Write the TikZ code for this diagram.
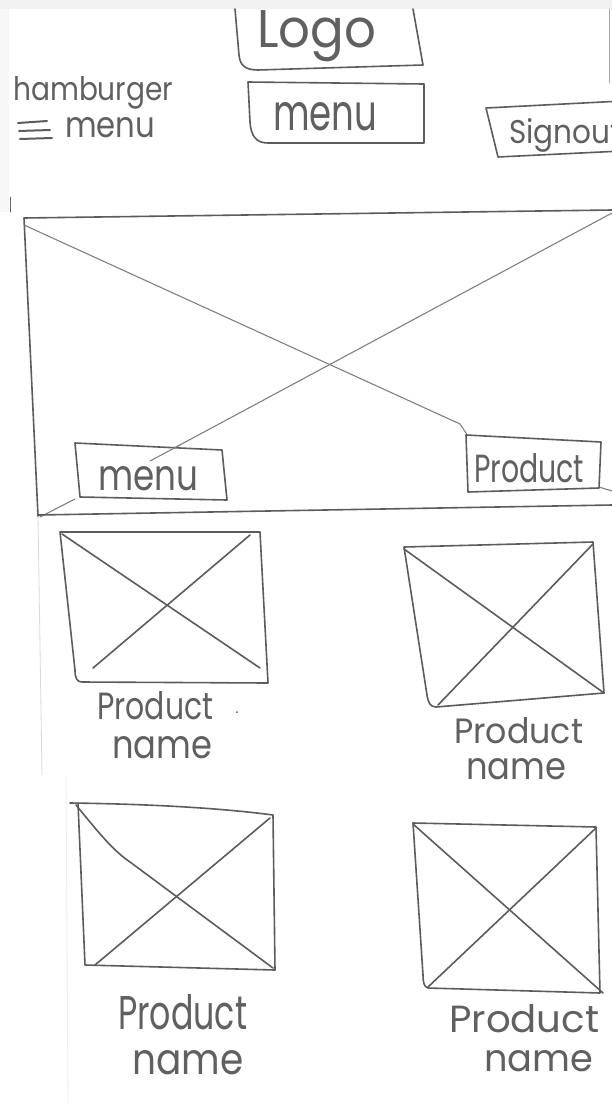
\documentclass[tikz,border=0pt]{standalone}
\usepackage{fontspec}
\setmainfont{Poppins}
\usepackage{graphicx}
\definecolor{pencil}{RGB}{92,92,92}
\definecolor{pencillight}{RGB}{128,128,128}
\definecolor{ink}{RGB}{96,96,96}
\newcommand{\hand}[3]{\resizebox{#1pt}{#2pt}{#3}}
\begin{document}
\begin{tikzpicture}[x=1pt,y=-1pt,
  line join=round, line cap=round,
  pen/.style={draw=pencil, line width=1.6pt},
  faint/.style={draw=pencillight, line width=1.1pt},
  paperedge/.style={draw=black!15, line width=0.8pt},
  hw/.style={inner sep=0pt, anchor=base west, text=ink}]
\useasboundingbox (0,0) rectangle (612,1103);
\fill[white] (0,0) rectangle (612,1103);
\fill[black!5] (0,0) rectangle (612,9);
\fill[black!3] (0,9) rectangle (9,212);
% paper edges
\draw[draw=black!35, line width=0.8pt] (609,9) -- (609,83);
\draw[draw=black!60, line width=1pt] (10,197) -- (10,212);
\draw[paperedge] (38,516) -- (42,775);
\draw[draw=black!7, line width=0.8pt] (66,775) -- (68,1103);

% ---------- header ----------
% logo box
\draw[pen] (235,9) -- (239,55) .. controls (240,66) and (246,70) .. (258,70) -- (423,65) -- (413,9);
\node[hw] (logo) at (257,47) {\hand{119}{37}{Logo}};
% menu box
\draw[pen] (248,82) -- (424,84) -- (424,143) -- (268,143) .. controls (256,143) and (251,136) .. (250,122) -- cycle;
\node[hw] (menutop) at (273,130) {\hand{104}{28}{menu}};
% hamburger label
\node[hw] (hamb) at (13,100) {\hand{160}{24}{hamburger}};
\draw[pen, line width=2pt] (18,123) -- (47,121);
\draw[pen, line width=2pt] (19,131) -- (50,130);
\draw[pen, line width=2pt] (20,139) -- (52,138);
\node[hw] (hmenu) at (65,137) {\hand{90}{20}{menu}};
% signout box
\draw[pen] (622,101) -- (486,108) -- (498,157) -- (622,151);
\node[hw] (signout) at (509,143) {\hand{112}{25}{Signout}};

% ---------- hero ----------
\draw[faint] (24,225) -- (460,424) -- (468,436);
\draw[faint] (612,213) -- (150,461);
\draw[faint] (75,499) -- (40,517);
\draw[faint] (599,487) -- (612,491);
\draw[pen] (612,210) -- (24,218) -- (38,516);
\draw[pen] (38,515) -- (612,505);
% hero menu button
\draw[pen, fill=white] (75,443) -- (222,450) -- (227,500) -- (80,497) -- cycle;
\draw[faint] (180,445) -- (150,461);
\node[hw] (heromenu) at (98,490) {\hand{100}{24}{menu}};
% hero product button
\draw[pen, fill=white] (466,435) -- (601,442) -- (599,488) -- (468,492) -- cycle;
\node[hw] (heroprod) at (474,482) {\hand{110}{29}{Product}};

% ---------- product cards ----------
% card 1
\draw[pen] (60,532) -- (260,532) -- (268,683) -- (82,682) .. controls (77,682) and (75,678) .. (75,670) -- cycle;
\draw[pen] (62,534) -- (260,668);
\draw[pen] (250,535) -- (93,668);
\node[hw] (p1) at (97,719) {\hand{116}{28}{Product}};
\node[hw] (n1) at (112,758) {\hand{100}{22}{name}};
\fill[pencil] (237,712) circle (1pt);
% card 2
\draw[pen] (404,547) -- (593,542) -- (604,693) -- (436,707) .. controls (430,707) and (428,702) .. (427,695) -- cycle;
\draw[pen] (404,549) -- (604,693);
\draw[pen] (593,544) -- (438,705);
\node[hw] (p2) at (454,743) {\hand{129}{26}{Product}};
\node[hw] (n2) at (466,779) {\hand{100}{21}{name}};
% card 3
\draw[pen] (70,803) .. controls (150,804) and (220,808) .. (273,815) -- (275,970) -- (85,965) -- (78,803);
\draw[pen] (76,805) .. controls (95,828) and (112,850) .. (130,862) -- (273,968);
\draw[pen] (270,818) -- (95,965);
\node[hw] (p3) at (118,1029) {\hand{129}{35}{Product}};
\node[hw] (n3) at (132,1074) {\hand{111}{24}{name}};
% card 4
\draw[pen] (413,823) -- (596,827) -- (600,993) -- (428,988) .. controls (424,987) and (423,982) .. (423,975) -- cycle;
\draw[pen] (413,824) -- (603,993);
\draw[pen] (596,828) -- (428,987);
\node[hw] (p4) at (449,1032) {\hand{150}{28}{Product}};
\node[hw] (n4) at (484,1071) {\hand{109}{21}{name}};
\end{tikzpicture}
\end{document}
